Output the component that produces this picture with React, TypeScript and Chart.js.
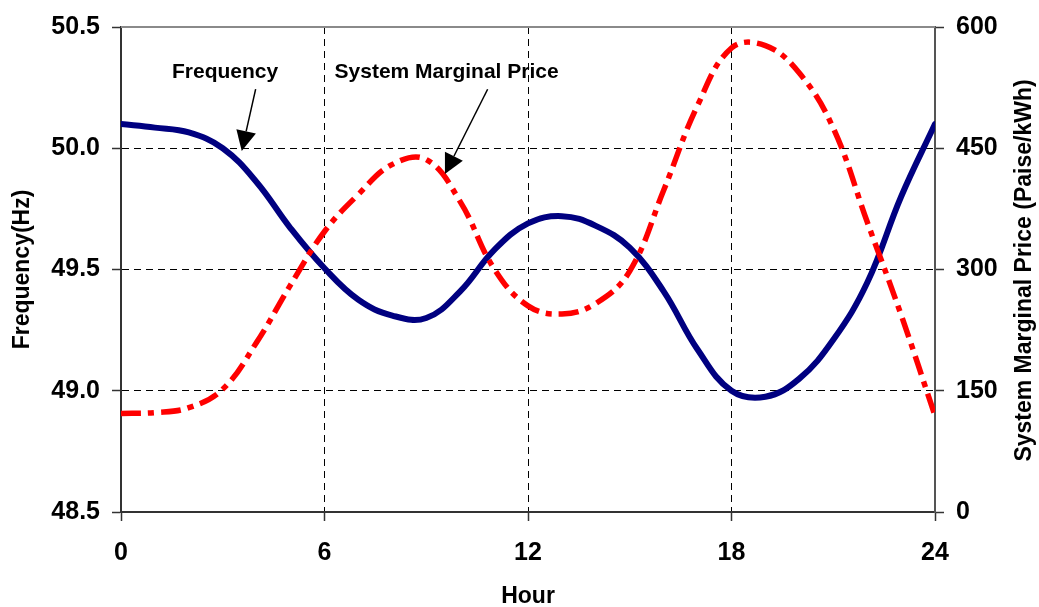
import React, { useEffect, useRef } from "react";
import { Chart, registerables } from "chart.js";

Chart.register(...registerables);

// ---- Data ----
const hours = [0, 1, 2, 3, 4, 5, 6, 7, 8, 9, 10, 11, 12, 13, 14, 15, 16, 17, 18, 19, 20, 21, 22, 23, 24];
const frequencyHz = [
  50.1, 50.085, 50.065, 50.0, 49.86, 49.67, 49.505, 49.375, 49.31, 49.3, 49.41, 49.58, 49.69,
  49.72, 49.68, 49.59, 49.41, 49.17, 49.0, 48.975, 49.05, 49.21, 49.445, 49.8, 50.1,
];
const systemMarginalPrice = [
  122, 123, 129, 152, 210, 281, 347, 393, 430, 436, 384, 301, 255, 245, 258, 298, 398, 503,
  574, 577, 543, 475, 359, 244, 119,
];
const hourTicks = [0, 6, 12, 18, 24];
const frequencyTicks = [48.5, 49.0, 49.5, 50.0, 50.5];
const priceTicks = [0, 150, 300, 450, 600];

const FONT = '"Liberation Sans", Arial, Helvetica, sans-serif';

// annotation labels, anchored in data units
const annotations = [
  { text: "Frequency", axis: "y", tx: 3.07, ty: 50.29, x0: 3.97, y0: 50.244, x1: 3.56, y1: 49.989 },
  { text: "System Marginal Price", axis: "y1", tx: 9.6, ty: 537, x0: 10.81, y0: 523, x1: 9.55, y1: 418 },
];

export default function App() {
  const ref = useRef<HTMLCanvasElement>(null);

  useEffect(() => {
    if (!ref.current) return;

    const extras = {
      id: "extras",
      beforeDatasetsDraw(chart: any) {
        const { ctx, chartArea } = chart;
        ctx.save();
        ctx.strokeStyle = "#8a8a8a";
        ctx.lineWidth = 2;
        ctx.beginPath();
        ctx.moveTo(chartArea.left, chartArea.top);
        ctx.lineTo(chartArea.right, chartArea.top);
        ctx.stroke();
        ctx.restore();
      },
      afterDatasetsDraw(chart: any) {
        const { ctx, chartArea, scales } = chart;
        ctx.save();
        // right axis title (reads bottom to top)
        ctx.translate(chart.width - 14, (chartArea.top + chartArea.bottom) / 2 + 1);
        ctx.rotate(-Math.PI / 2);
        ctx.fillStyle = "#000";
        ctx.font = `bold 23px ${FONT}`;
        ctx.textAlign = "center";
        ctx.textBaseline = "middle";
        ctx.fillText("System Marginal Price (Paise/kWh)", 0, 0);
        ctx.restore();

        for (const a of annotations) {
          const ys = scales[a.axis];
          const xs = scales.x;
          ctx.save();
          ctx.fillStyle = "#000";
          ctx.font = `bold 21px ${FONT}`;
          ctx.textAlign = "center";
          ctx.textBaseline = "alphabetic";
          ctx.fillText(a.text, xs.getPixelForValue(a.tx), ys.getPixelForValue(a.ty));
          const sx = xs.getPixelForValue(a.x0);
          const sy = ys.getPixelForValue(a.y0);
          const ex = xs.getPixelForValue(a.x1);
          const ey = ys.getPixelForValue(a.y1);
          const dx = ex - sx;
          const dy = ey - sy;
          const len = Math.hypot(dx, dy);
          const ux = dx / len;
          const uy = dy / len;
          const headLen = 20;
          const half = 10;
          const bx = ex - ux * headLen;
          const by = ey - uy * headLen;
          ctx.strokeStyle = "#000";
          ctx.lineWidth = 1.5;
          ctx.beginPath();
          ctx.moveTo(sx, sy);
          ctx.lineTo(bx, by);
          ctx.stroke();
          ctx.beginPath();
          ctx.moveTo(ex, ey);
          ctx.lineTo(bx - uy * half, by + ux * half);
          ctx.lineTo(bx + uy * half, by - ux * half);
          ctx.closePath();
          ctx.fill();
          ctx.restore();
        }
      },
    };

    const edgeTransparent = (last: number) => (c: any) =>
      c.index === 0 || c.index === last ? "rgba(0,0,0,0)" : "#000";

    const tickFont = { family: FONT, size: 25, weight: "bold" as const };

    const chart = new Chart(ref.current, {
      type: "line",
      data: {
        datasets: [
          {
            label: "Frequency",
            data: hours.map((h, i) => ({ x: h, y: frequencyHz[i] })),
            yAxisID: "y",
            borderColor: "#000080",
            backgroundColor: "#000080",
            borderWidth: 6,
            pointRadius: 0,
            tension: 0.4,
            borderCapStyle: "round",
            borderJoinStyle: "round",
            fill: false,
            order: 1,
          },
          {
            label: "System Marginal Price",
            data: hours.map((h, i) => ({ x: h, y: systemMarginalPrice[i] })),
            yAxisID: "y1",
            borderColor: "#ff0000",
            backgroundColor: "#ff0000",
            borderWidth: 5.5,
            borderDash: [20, 7, 6, 7],
            pointRadius: 0,
            tension: 0.4,
            fill: false,
            order: 0,
          },
        ],
      },
      options: {
        responsive: false,
        animation: false,
        devicePixelRatio: 1,
        layout: { padding: { top: 23, left: 0, right: 0, bottom: 0 } },
        plugins: { legend: { display: false }, tooltip: { enabled: false } },
        scales: {
          x: {
            type: "linear",
            position: "bottom",
            min: 0,
            max: 24,
            afterBuildTicks: (s: any) => {
              s.ticks = hourTicks.map((v) => ({ value: v }));
            },
            afterFit: (s: any) => {
              s.height = 95;
            },
            ticks: { font: tickFont, color: "#000", padding: 17, maxRotation: 0, autoSkip: false },
            grid: {
              color: edgeTransparent(hourTicks.length - 1),
              lineWidth: 1,
              tickLength: 9,
              tickColor: "#333",
              tickWidth: 1.5,
              tickBorderDash: [],
            },
            border: { display: true, color: "#333", width: 2, dash: [7, 5] },
            title: {
              display: true,
              text: "Hour",
              color: "#000",
              font: { family: FONT, size: 23, weight: "bold", lineHeight: 1 },
              padding: { top: 0, bottom: -1 },
            },
          },
          y: {
            type: "linear",
            position: "left",
            min: 48.5,
            max: 50.5,
            afterBuildTicks: (s: any) => {
              s.ticks = frequencyTicks.map((v) => ({ value: v }));
            },
            afterFit: (s: any) => {
              s.width = 121;
            },
            ticks: {
              font: tickFont,
              color: "#000",
              padding: 12,
              callback: (v: any) => Number(v).toFixed(1),
            },
            grid: {
              color: edgeTransparent(frequencyTicks.length - 1),
              lineWidth: 1,
              tickLength: 9,
              tickColor: "#333",
              tickWidth: 1.5,
              tickBorderDash: [],
            },
            border: { display: true, color: "#333", width: 2, dash: [7, 5] },
            title: {
              display: true,
              text: "Frequency(Hz)",
              color: "#000",
              font: { family: FONT, size: 23, weight: "bold", lineHeight: 1.2 },
              padding: { top: 9, bottom: 0 },
            },
          },
          y1: {
            type: "linear",
            position: "right",
            min: 0,
            max: 600,
            afterBuildTicks: (s: any) => {
              s.ticks = priceTicks.map((v) => ({ value: v }));
            },
            afterFit: (s: any) => {
              s.width = 104;
            },
            ticks: { font: tickFont, color: "#000", padding: 12 },
            grid: {
              drawOnChartArea: false,
              tickLength: 9,
              tickColor: "#333",
              tickWidth: 1.5,
              tickBorderDash: [],
            },
            border: { display: true, color: "#555", width: 2 },
          },
        },
      },
      plugins: [extras],
    } as any);

    return () => chart.destroy();
  }, []);

  return (
    <div style={{ position: "fixed", left: 0, top: 0, width: 1039, height: 607, background: "#fff" }}>
      <canvas ref={ref} width={1039} height={607} style={{ display: "block" }} />
    </div>
  );
}
